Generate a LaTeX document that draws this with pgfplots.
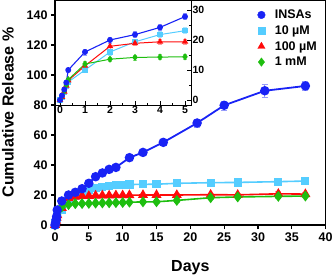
\documentclass[border=0pt]{standalone}
\usepackage{fontspec}
\setmainfont{Liberation Sans}
\usepackage{pgfplots}
\usepackage{pgfplotstable}
\pgfplotsset{compat=1.18}
\definecolor{cblue}{RGB}{25,35,245}
\definecolor{ccyan}{RGB}{85,205,255}
\definecolor{cred}{RGB}{255,10,10}
\definecolor{cgreen}{RGB}{30,190,15}

\pgfplotstableread{
x y e
0 0 0
0.08 1.5 0.3
0.17 3.5 0.5
0.25 5.8 0.5
0.33 10 0.6
1 16 1
2 20 1
3 21.8 1
4 24.2 1
5 27.8 1
6 32.2 1
7 34.7 1
8 37.1 1
9 38.4 1
11 44.9 1
13 48.4 1
16 55.1 1.5
21 68 2.5
25 79.8 3
31 89.5 4.5
37 92.7 3
}\tinsa
\pgfplotstableread{
x y e
0 0 0
0.08 1 0.3
0.17 2.5 0.4
0.25 4.5 0.4
0.33 6 0.5
1 10 0.8
2 16 1
3 19.4 1
4 21.8 1
5 23.1 1
6 24.5 1
7 25.5 1
8 26.2 1
9 26.6 1
10 26.8 1
11 27 1
13 27.1 1
15 27.2 1
18 27.8 1.2
23 28.2 1.5
27 28.4 1.8
33 28.9 2
37 29.3 2.2
}\tten
\pgfplotstableread{
x y e
0 0 0
0.08 1 0.3
0.17 2.8 0.4
0.25 4.8 0.4
0.33 6.5 0.5
1 11.4 0.8
2 17.9 1
3 18.9 0.8
4 19.4 0.8
5 19.4 0.8
6 19.6 0.8
7 19.7 0.8
8 19.7 0.8
9 19.8 0.8
10 19.8 0.8
11 19.9 0.8
13 20 0.8
15 20 0.8
18 20 1
23 20.2 1.2
27 20.1 1.2
33 20.8 1.5
37 20.6 1.5
}\thun
\pgfplotstableread{
x y e
0 0 0
0.08 1.2 0.3
0.17 3 0.4
0.25 5 0.4
0.33 6.8 0.5
1 12 0.8
2 13.6 0.8
3 14.2 0.8
4 14.3 0.8
5 14.4 0.8
6 14.6 0.8
7 14.7 0.8
8 14.8 0.8
9 14.9 0.8
10 15 0.8
11 15.2 0.8
13 15.4 0.8
15 15.5 0.8
18 16.4 1.5
23 18.2 1.2
27 18.7 1
33 19.1 1
37 19.3 1
}\tmm

\begin{document}
\begin{tikzpicture}
\path[use as bounding box] (-55pt,-52pt) rectangle (279pt,225pt);
\begin{axis}[
  at={(0pt,0pt)}, anchor=south west,
  scale only axis, width=270.7pt, height=225pt,
  xmin=0, xmax=40, ymin=0, ymax=150,
  xtick={0,5,...,40}, ytick={0,20,...,140},
  tick align=outside, xtick pos=bottom, ytick pos=left,
  major tick length=4pt,
  axis line style={line width=1.2pt}, every tick/.style={line width=1.2pt, black},
  tick label style={font=\bfseries\fontsize{12.5}{13}\selectfont},
  /pgf/number format/assume math mode=true,
  xlabel={Days}, ylabel={Cumulative Release \%},
  label style={font=\bfseries\fontsize{16}{18}\selectfont},
  xlabel style={at={(axis description cs:0.5,0)}, anchor=base, yshift=-46.7pt},
  ylabel style={at={(axis description cs:-0.1736,0.5)}, anchor=center},
  legend style={draw=none, fill=none, at={(rel axis cs:0.735,0.975)}, anchor=north west,
     font=\bfseries\fontsize{12.5}{13}\selectfont, row sep=1.5pt},
  legend cell align=left,
  legend image code/.code={\draw[#1] plot coordinates {(0.15cm,0cm)}; \path[draw=none] (0cm,0cm) -- (0.55cm,0cm);},
  error bars/y dir=both, error bars/y explicit,
]
\addlegendimage{only marks, mark=*, mark size=3.8pt, cblue}
\addlegendentry{INSAs}
\addlegendimage{only marks, mark=square*, mark size=3.3pt, ccyan}
\addlegendentry{10 µM}
\addlegendimage{only marks, mark=triangle*, mark size=4.2pt, cred}
\addlegendentry{100 µM}
\addlegendimage{only marks, mark=diamond*, mark size=4.2pt, cgreen}
\addlegendentry{1 mM}
\addplot[ccyan, line width=1.6pt, mark=square*, mark size=3.3pt,
  error bars/error bar style={ccyan!60, line width=0.8pt}, error bars/error mark options={rotate=90, ccyan!60, mark size=3pt}]
  table[x=x, y=y, y error=e] {\tten};
\addplot[cred, line width=1.6pt, mark=triangle*, mark size=4.2pt,
  error bars/error bar style={cred!40, line width=0.8pt}, error bars/error mark options={rotate=90, cred!40, mark size=3pt}]
  table[x=x, y=y, y error=e] {\thun};
\addplot[cgreen, line width=1.6pt, mark=diamond*, mark size=4.2pt,
  error bars/error bar style={cgreen!50, line width=0.8pt}, error bars/error mark options={rotate=90, cgreen!50, mark size=3pt}]
  table[x=x, y=y, y error=e] {\tmm};
\addplot[cblue, line width=1.8pt, mark=*, mark size=3.8pt,
  error bars/error bar style={cblue!45, line width=0.8pt}, error bars/error mark options={rotate=90, cblue!45, mark size=3pt}]
  table[x=x, y=y, y error=e] {\tinsa};
\end{axis}
\begin{axis}[
  at={(0pt,120pt)}, anchor=south west,
  scale only axis, width=136pt, height=105pt,
  xmin=-0.2, xmax=5.24, ymin=-1.667, ymax=33.33,
  xtick={0,1,...,5}, ytick={0,10,20,30},
  minor x tick num=1, minor y tick num=1,
  tick align=inside, xtick pos=bottom, ytick pos=right,
  major tick length=4pt, minor tick length=2.5pt,
  axis line style={line width=1pt}, every tick/.style={line width=0.9pt, black},
  tick label style={font=\bfseries\fontsize{10.5}{11}\selectfont},
  xticklabel style={yshift=2pt}, yticklabel style={xshift=-2pt},
  /pgf/number format/assume math mode=true,
  restrict x to domain=-1:5.5,
  error bars/y dir=both, error bars/y explicit,
]
\addplot[ccyan, line width=1pt, mark=square*, mark size=2.2pt,
  error bars/error bar style={ccyan!50, line width=0.5pt}, error bars/error mark options={rotate=90, ccyan!50, mark size=2pt}]
  table[x=x, y=y, y error=e] {\tten};
\addplot[cred, line width=1pt, mark=triangle*, mark size=2.8pt,
  error bars/error bar style={cred!40, line width=0.5pt}, error bars/error mark options={rotate=90, cred!40, mark size=2pt}]
  table[x=x, y=y, y error=e] {\thun};
\addplot[cgreen, line width=1pt, mark=diamond*, mark size=2.8pt,
  error bars/error bar style={cgreen!50, line width=0.5pt}, error bars/error mark options={rotate=90, cgreen!50, mark size=2pt}]
  table[x=x, y=y, y error=e] {\tmm};
\addplot[cblue, line width=1.1pt, mark=*, mark size=2.4pt,
  error bars/error bar style={cblue!45, line width=0.5pt}, error bars/error mark options={rotate=90, cblue!45, mark size=2pt}]
  table[x=x, y=y, y error=e] {\tinsa};
\end{axis}
\end{tikzpicture}
\end{document}
